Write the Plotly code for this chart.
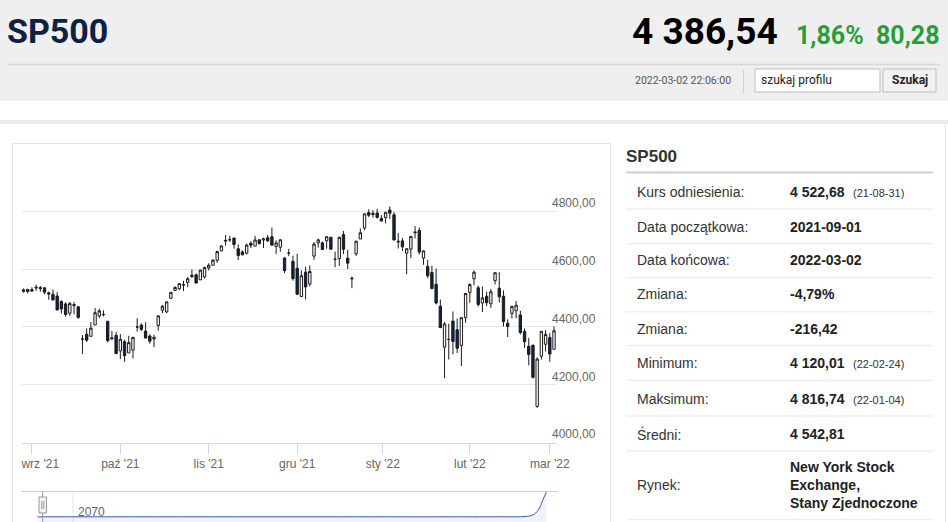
import numpy as np
import pandas as pd
import plotly.graph_objects as go

# ---------------- data ----------------
dates = [
    "2021-08-30", "2021-08-31",
    "2021-09-01", "2021-09-02", "2021-09-03", "2021-09-07", "2021-09-08", "2021-09-09", "2021-09-10",
    "2021-09-13", "2021-09-14", "2021-09-15", "2021-09-16", "2021-09-17", "2021-09-20", "2021-09-21",
    "2021-09-22", "2021-09-23", "2021-09-24", "2021-09-27", "2021-09-28", "2021-09-29", "2021-09-30",
    "2021-10-01", "2021-10-04", "2021-10-05", "2021-10-06", "2021-10-07", "2021-10-08", "2021-10-11",
    "2021-10-12", "2021-10-13", "2021-10-14", "2021-10-15", "2021-10-18", "2021-10-19", "2021-10-20",
    "2021-10-21", "2021-10-22", "2021-10-25", "2021-10-26", "2021-10-27", "2021-10-28", "2021-10-29",
    "2021-11-01", "2021-11-02", "2021-11-03", "2021-11-04", "2021-11-05", "2021-11-08", "2021-11-09",
    "2021-11-10", "2021-11-11", "2021-11-12", "2021-11-15", "2021-11-16", "2021-11-17", "2021-11-18",
    "2021-11-19", "2021-11-22", "2021-11-23", "2021-11-24", "2021-11-26", "2021-11-29", "2021-11-30",
    "2021-12-01", "2021-12-02", "2021-12-03", "2021-12-06", "2021-12-07", "2021-12-08", "2021-12-09",
    "2021-12-10", "2021-12-13", "2021-12-14", "2021-12-15", "2021-12-16", "2021-12-17", "2021-12-20",
    "2021-12-22", "2021-12-23", "2021-12-27", "2021-12-28", "2021-12-29", "2021-12-30", "2021-12-31",
    "2022-01-03", "2022-01-04", "2022-01-05", "2022-01-06", "2022-01-07", "2022-01-10", "2022-01-11",
    "2022-01-12", "2022-01-13", "2022-01-14", "2022-01-18", "2022-01-19", "2022-01-20", "2022-01-21",
    "2022-01-24", "2022-01-25", "2022-01-26", "2022-01-27", "2022-01-28", "2022-01-31",
    "2022-02-01", "2022-02-02", "2022-02-03", "2022-02-04", "2022-02-07", "2022-02-08", "2022-02-09",
    "2022-02-10", "2022-02-11", "2022-02-14", "2022-02-15", "2022-02-16", "2022-02-17", "2022-02-18",
    "2022-02-22", "2022-02-23", "2022-02-24", "2022-02-25", "2022-02-28",
    "2022-03-01", "2022-03-02",
]
opens = [
    4522.0, 4529.8,
    4528.8, 4534.5, 4532.4, 4535.4, 4518.1, 4513.0, 4506.9,
    4488.0, 4479.3, 4447.5, 4477.1, 4469.7, 4357.7, 4374.5,
    4367.4, 4406.8, 4438.0, 4442.1, 4419.5, 4362.4, 4370.7,
    4317.2, 4348.8, 4309.9, 4319.6, 4399.8, 4406.5, 4385.4,
    4368.3, 4358.0, 4405.0, 4458.0, 4452.0, 4499.0, 4526.0,
    4532.0, 4546.1, 4553.7, 4578.7, 4580.2, 4562.8, 4572.9,
    4604.0, 4613.3, 4630.7, 4662.9, 4699.3, 4701.5, 4707.3,
    4670.3, 4659.4, 4655.2, 4689.3, 4679.4, 4701.5, 4700.7,
    4708.4, 4712.0, 4678.5, 4675.8, 4638.0, 4655.3, 4627.0,
    4602.8, 4504.7, 4589.5, 4548.4, 4645.0, 4690.9, 4691.0,
    4698.0, 4710.3, 4634.1, 4636.5, 4719.1, 4638.0, 4566.0,
    4653.0, 4704.0, 4742.0, 4795.5, 4788.6, 4794.2, 4775.2,
    4778.1, 4804.5, 4788.0, 4693.4, 4697.7, 4655.3, 4669.1,
    4728.6, 4733.6, 4638.0, 4609.0, 4588.0, 4547.4, 4471.4,
    4330.0, 4356.5, 4420.0, 4390.0, 4336.2, 4431.8,
    4519.6, 4566.4, 4535.4, 4482.8, 4505.8, 4480.0, 4560.0,
    4534.0, 4506.3, 4412.6, 4447.0, 4455.8, 4441.0, 4384.6,
    4332.7, 4337.0, 4125.0, 4298.4, 4340.0,
    4363.1, 4322.6,
]
highs = [
    4533.0, 4531.4,
    4537.1, 4545.9, 4541.5, 4535.4, 4521.8, 4529.9, 4520.5,
    4492.0, 4485.7, 4486.9, 4485.9, 4471.5, 4372.0, 4394.9,
    4416.8, 4465.4, 4463.1, 4457.3, 4419.5, 4385.6, 4382.6,
    4375.2, 4355.5, 4369.2, 4365.6, 4430.0, 4412.0, 4415.9,
    4374.9, 4372.9, 4439.7, 4475.8, 4488.8, 4520.4, 4540.9,
    4551.4, 4559.7, 4572.6, 4598.5, 4584.6, 4597.6, 4608.1,
    4620.3, 4635.2, 4663.5, 4683.0, 4718.5, 4714.9, 4708.5,
    4684.9, 4664.6, 4688.5, 4697.4, 4715.0, 4701.5, 4708.8,
    4717.8, 4743.8, 4699.4, 4702.9, 4642.0, 4670.0, 4646.0,
    4652.9, 4595.5, 4608.0, 4612.6, 4694.0, 4705.1, 4695.3,
    4713.6, 4710.3, 4660.5, 4712.6, 4732.0, 4666.7, 4575.0,
    4697.7, 4740.7, 4791.5, 4807.0, 4804.1, 4808.9, 4786.8,
    4796.6, 4816.74, 4797.7, 4725.0, 4708.0, 4673.0, 4714.1,
    4748.8, 4744.1, 4665.1, 4632.0, 4611.6, 4602.1, 4494.5,
    4417.4, 4411.0, 4453.2, 4428.7, 4432.7, 4516.9,
    4550.5, 4595.3, 4542.9, 4539.7, 4521.9, 4531.3, 4590.0,
    4588.9, 4526.3, 4426.2, 4472.8, 4489.5, 4456.1, 4394.6,
    4362.1, 4337.0, 4294.7, 4385.3, 4388.8,
    4378.5, 4401.5,
]
lows = [
    4519.0, 4515.8,
    4522.0, 4524.7, 4521.9, 4513.0, 4493.9, 4492.1, 4457.7,
    4446.0, 4435.5, 4438.4, 4443.8, 4427.8, 4305.9, 4348.0,
    4367.4, 4406.8, 4430.3, 4436.2, 4346.3, 4355.1, 4306.2,
    4288.5, 4278.9, 4309.9, 4290.5, 4383.7, 4386.2, 4360.6,
    4342.1, 4329.9, 4386.8, 4447.7, 4447.5, 4496.4, 4524.4,
    4526.9, 4524.0, 4537.4, 4569.2, 4551.7, 4562.8, 4567.6,
    4595.1, 4613.3, 4621.2, 4662.6, 4681.3, 4694.4, 4670.9,
    4630.9, 4648.3, 4650.4, 4672.9, 4679.4, 4684.4, 4672.8,
    4694.2, 4682.2, 4652.7, 4659.9, 4586.0, 4645.0, 4560.0,
    4510.3, 4504.7, 4495.1, 4540.5, 4632.0, 4674.5, 4666.0,
    4670.2, 4667.6, 4606.5, 4611.2, 4651.9, 4600.2, 4534.0,
    4645.5, 4704.0, 4734.0, 4780.0, 4778.1, 4775.3, 4765.8,
    4758.2, 4774.3, 4699.4, 4671.3, 4662.7, 4582.2, 4638.3,
    4706.7, 4650.3, 4614.8, 4568.7, 4530.2, 4478.0, 4395.3,
    4222.6, 4287.1, 4304.8, 4309.5, 4264.7, 4414.0,
    4483.5, 4544.3, 4470.4, 4451.5, 4471.5, 4465.4, 4547.0,
    4484.3, 4401.4, 4364.8, 4429.3, 4429.7, 4373.8, 4327.2,
    4267.1, 4221.5, 4120.01, 4286.8, 4315.1,
    4279.5, 4322.6,
]
closes = [
    4528.8, 4522.7,
    4524.1, 4537.0, 4535.4, 4520.0, 4514.1, 4493.3, 4458.6,
    4462.0, 4443.1, 4480.7, 4473.8, 4433.0, 4357.7, 4354.2,
    4395.6, 4449.0, 4455.5, 4443.1, 4352.6, 4359.5, 4307.5,
    4357.0, 4300.5, 4345.7, 4363.6, 4399.8, 4391.3, 4361.2,
    4350.7, 4363.8, 4438.3, 4471.4, 4486.5, 4519.6, 4536.2,
    4549.8, 4544.9, 4566.5, 4574.8, 4551.7, 4596.4, 4605.4,
    4613.7, 4630.7, 4660.6, 4680.1, 4697.5, 4701.7, 4685.3,
    4646.7, 4649.3, 4682.9, 4682.8, 4700.9, 4688.7, 4704.5,
    4698.0, 4682.9, 4690.7, 4701.5, 4594.6, 4655.3, 4567.0,
    4513.0, 4577.1, 4538.4, 4591.7, 4686.8, 4701.2, 4667.5,
    4712.0, 4669.0, 4634.1, 4709.9, 4668.7, 4620.6, 4568.0,
    4696.6, 4725.8, 4791.2, 4786.4, 4793.1, 4778.7, 4766.2,
    4796.6, 4793.5, 4700.6, 4696.1, 4677.0, 4670.3, 4713.1,
    4726.4, 4659.0, 4662.9, 4577.1, 4532.8, 4482.7, 4397.9,
    4410.1, 4356.5, 4349.9, 4326.5, 4431.9, 4515.6,
    4546.5, 4589.4, 4477.4, 4500.5, 4483.9, 4521.5, 4587.2,
    4504.1, 4418.6, 4401.7, 4471.1, 4475.0, 4380.3, 4348.9,
    4304.8, 4225.5, 4288.7, 4384.7, 4373.9,
    4306.3, 4386.5,
]

month_starts = ["2021-09-01", "2021-10-01", "2021-11-01", "2021-12-01",
                "2022-01-01", "2022-02-01", "2022-03-01"]
month_labels = ["\u00a0\u00a0\u00a0\u00a0\u00a0wrz '21", "paź '21", "lis '21", "gru '21",
                "sty '22", "lut '22", "mar '22"]
y_ticks = [4000, 4200, 4400, 4600, 4800, 5000]

# navigator (long history, relative position 0-100 / relative level 0-1)
nav_pos = [3, 20, 40, 60, 80, 90, 94, 95.5, 96.5, 97.3, 98.0]
nav_lvl = [0.17, 0.17, 0.17, 0.17, 0.17, 0.172, 0.18, 0.23, 0.39, 0.70, 0.98]

header_name = "SP500"
header_price = "4 386,54"
header_pct = "1,86%"
header_chg = "80,28"
timestamp = "2022-03-02 22:06:00"

tbl_labels = ["Kurs odniesienia:", "Data początkowa:", "Data końcowa:", "Zmiana:", "Zmiana:",
              "Minimum:", "Maksimum:", "Średni:", "Rynek:"]
tbl_values = ["4 522,68", "2021-09-01", "2022-03-02", "-4,79%", "-216,42",
              "4 120,01", "4 816,74", "4 542,81",
              "New York Stock<br>Exchange,<br>Stany Zjednoczone"]
tbl_notes = ["(21-08-31)", "", "", "", "", "(22-02-24)", "(22-01-04)", "", ""]

# ---------------- helpers ----------------
W, H = 948, 522
def X(p):
    return p / W
def Y(p):
    return 1 - p / H

x_idx = list(range(len(dates)))
dt_ns = pd.to_datetime(dates).astype("int64").to_numpy()
tick_pos = np.interp(pd.to_datetime(month_starts).astype("int64").to_numpy(), dt_ns, x_idx)
y_text = [f"{v:.2f}".replace(".", ",") for v in y_ticks]
y_text[-1] = ""

NAVY = "#0c2344"
SANS = "Liberation Sans, Arial, sans-serif"
HEAD = "Roboto, Liberation Sans, sans-serif"

fig = go.Figure()
fig.add_trace(go.Candlestick(
    x=x_idx, open=opens, high=highs, low=lows, close=closes,
    increasing=dict(fillcolor="#ffffff", line=dict(color="#1b1b1b", width=1)),
    decreasing=dict(fillcolor=NAVY, line=dict(color="#1b1b1b", width=1)),
    whiskerwidth=0, showlegend=False, hoverinfo="skip",
    xaxis="x", yaxis="y",
))
fig.add_trace(go.Scatter(
    x=nav_pos, y=nav_lvl, mode="lines", line=dict(color="#335cad", width=1, shape="spline"),
    fill="tozeroy", fillcolor="rgba(51,92,173,0.07)", showlegend=False, hoverinfo="skip",
    xaxis="x2", yaxis="y2",
))

shapes = []
def rect(x0, y0, x1, y1, fill, line=None, lw=1):
    shapes.append(dict(type="rect", xref="paper", yref="paper", x0=X(x0), x1=X(x1), y0=Y(y1), y1=Y(y0),
                       fillcolor=fill, line=dict(color=line or fill, width=lw if line else 0), layer="below"))
def hline(x0, x1, y, color, w=1):
    shapes.append(dict(type="line", xref="paper", yref="paper", x0=X(x0), x1=X(x1), y0=Y(y), y1=Y(y),
                       line=dict(color=color, width=w), layer="below"))
def vline(x, y0, y1, color, w=1, layer="below"):
    shapes.append(dict(type="line", xref="paper", yref="paper", x0=X(x), x1=X(x), y0=Y(y0), y1=Y(y1),
                       line=dict(color=color, width=w), layer=layer))

# header band
rect(0, 0, W, 101, "#efefef")
hline(8, 940, 64.5, "#d7d7d7", 1.5)
vline(743.5, 70, 94, "#d2d2d2")
rect(755, 69, 880, 92, "#ffffff", "#bdbdbd")
rect(883, 69, 936, 92, "#f2f2f2", "#bcbcbc")
# page shadow line
rect(0, 120, W, 124, "#ebebeb")
# chart card border
hline(12, 610, 143.5, "#e4e4e4")
vline(12.5, 143, 522, "#e4e4e4")
vline(610.5, 143, 522, "#e4e4e4")
vline(945.5, 124, 522, "#e6e6e6")
# table lines
hline(626, 933, 172.5, "#cccccc", 2)
for ysep in [209, 243.5, 277.5, 311.7, 345.5, 380.5, 416, 450.7, 519.5]:
    hline(626, 933, ysep, "#eeeeee", 1.5)
# navigator decorations
hline(21.5, 558, 491.5, "#cccccc")
vline(73, 491.5, 522, "#e6e6e6")
vline(42.7, 491.5, 522, "#999999", 1, layer="above")
shapes.append(dict(type="rect", xref="paper", yref="paper", x0=X(39), x1=X(46.5), y0=Y(513), y1=Y(497),
                   fillcolor="#f2f2f2", line=dict(color="#999999", width=1), layer="above"))
vline(41.8, 501, 509, "#999999", 1, layer="above")
vline(43.8, 501, 509, "#999999", 1, layer="above")

ann = []
def text(x, y, s, size, color="#333", family=SANS, xanchor="left", yanchor="middle", align="left"):
    ann.append(dict(x=X(x), y=Y(y), xref="paper", yref="paper", text=s, showarrow=False,
                    xanchor=xanchor, yanchor=yanchor, align=align,
                    font=dict(size=size, color=color, family=family)))

text(5, 31, f"<b>{header_name}</b>", 34, "#0d2142", HEAD)
text(780, 31, f"<b>{header_price}</b>", 37, "#000000", HEAD, xanchor="right")
text(794, 35, f"<b>{header_pct}</b>", 25, "#2a9d3b", HEAD)
text(874, 35, f"<b>{header_chg}</b>", 25, "#2a9d3b", HEAD)
text(733, 81, timestamp, 10.5, "#555555", HEAD, xanchor="right")
text(759, 80.5, "szukaj profilu", 12, "#222222", HEAD)
text(909.5, 80.5, "<b>Szukaj</b>", 12, "#222222", HEAD, xanchor="center")

text(624, 156, f"<b>{header_name}</b>", 17, "#333333")
row_y = [191.5, 226.5, 260, 294.3, 328.5, 363.3, 399, 434, 485]
for ry, lab, val, note in zip(row_y, tbl_labels, tbl_values, tbl_notes):
    text(635, ry, lab, 14, "#333333")
    text(788, ry, f"<b>{val}</b>", 14, "#222222")
    if note:
        text(851, ry + 1, note, 11, "#333333")
text(76, 512, "2070", 12, "#666666")

fig.update_layout(
    width=W, height=H, autosize=False,
    margin=dict(l=0, r=0, t=0, b=0, autoexpand=False),
    paper_bgcolor="#ffffff", plot_bgcolor="rgba(0,0,0,0)",
    boxgap=0.2,
    shapes=shapes, annotations=ann,
    xaxis=dict(domain=[X(21.5), X(557)], range=[-0.475, 126.71], anchor="y",
               tickvals=list(tick_pos), ticktext=month_labels,
               ticks="outside", ticklen=10, tickcolor="#ccd6eb", tickwidth=1,
               showline=True, linecolor="#ccd6eb", linewidth=1, showgrid=False, zeroline=False,
               tickfont=dict(size=12, color="#666666", family=SANS),
               rangeslider=dict(visible=False), fixedrange=True, automargin=False),
    yaxis=dict(domain=[Y(442.5), Y(153.5)], range=[4000, 5000], anchor="x", side="right",
               tickvals=y_ticks, ticktext=y_text, ticks="", showline=False, zeroline=False,
               gridcolor="#e6e6e6", gridwidth=1, ticklabelposition="outside top",
               ticklabelstandoff=-6, automargin=False,
               tickfont=dict(size=12, color="#666666", family=SANS), fixedrange=True),
    xaxis2=dict(domain=[X(21.5), X(557)], range=[0, 100], anchor="y2", visible=False, fixedrange=True),
    yaxis2=dict(domain=[0, Y(491.5)], range=[0, 1], anchor="x2", visible=False, fixedrange=True),
)

fig.write_html("out.html", post_script="document.body.style.margin='0';",
               config={"displayModeBar": False})
